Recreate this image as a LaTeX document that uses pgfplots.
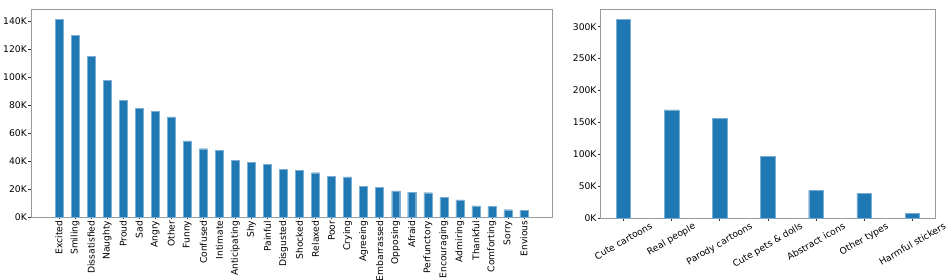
\documentclass[border=0pt]{standalone}
\usepackage{graphicx}
\usepackage{pgfplots}
\pgfplotsset{compat=1.18}
\usepackage{fontspec}
\setmainfont{DejaVu Sans}
\definecolor{mblue}{HTML}{1F77B4}
\definecolor{spine}{HTML}{9A9A9A}
\newcommand{\rl}[1]{\rotatebox{30}{#1}}
\begin{document}
\begin{tikzpicture}
\path[use as bounding box] (0pt,0pt) rectangle (951pt,280pt);
\pgfplotsset{
  every axis/.append style={
    scale only axis,
    font=\fontsize{9.2}{10.5}\selectfont,
    axis line style={spine, line width=0.7pt},
    tick style={black!80, line width=0.5pt},
    major tick length=2.5pt,
    tick align=outside,
    xtick pos=bottom, ytick pos=left,
    ymin=0,
    /pgf/number format/assume math mode=true,
    yticklabel={\pgfmathprintnumber[fixed,precision=0]{\tick}K},
    yticklabel style={inner sep=1.5pt},
    scaled y ticks=false,
    clip=false,
  },
}
% values in thousands
\begin{axis}[
  at={(31pt,63pt)}, anchor=south west,
  width=521pt, height=208pt,
  ybar, bar width=8pt,
  xmin=-1.75, xmax=30.75, ymax=149,
  ytick={0,20,40,60,80,100,120,140},
  xtick={0,...,29},
  xticklabels={Excited,Smiling,Dissatisfied,Naughty,Proud,Sad,Angry,Other,Funny,Confused,Intimate,Anticipating,Shy,Painful,Disgusted,Shocked,Relaxed,Poor,Crying,Agreeing,Embarrassed,Opposing,Afraid,Perfunctory,Encouraging,Admiring,Thankful,Comforting,Sorry,Envious},
  xticklabel style={rotate=90, anchor=east, inner sep=1pt},
]
\addplot[fill=mblue, draw=mblue!60!white, line width=0.4pt] coordinates {
(0,141.4) (1,130.0) (2,115.2) (3,98.0) (4,83.5) (5,77.7) (6,75.8) (7,71.8)
(8,54.6) (9,48.9) (10,47.9) (11,40.5) (12,38.9) (13,37.7) (14,34.1) (15,33.4)
(16,31.7) (17,29.3) (18,28.8) (19,22.2) (20,21.0) (21,18.8) (22,17.9) (23,17.4)
(24,14.3) (25,12.2) (26,7.9) (27,7.4) (28,5.2) (29,5.0)};
\end{axis}
\begin{axis}[
  at={(600.7pt,61.7pt)}, anchor=south west,
  width=334.3pt, height=209.3pt,
  ybar, bar width=14.6pt,
  xmin=-0.47, xmax=6.47, ymax=327.7,
  ytick={0,50,100,150,200,250,300},
  xtick={0,...,6},
  xticklabels={\rl{Cute cartoons},\rl{Real people},\rl{Parody cartoons},\rl{Cute pets \& dolls},\rl{Abstract icons},\rl{Other types},\rl{Harmful stickers}},
  xticklabel style={anchor=north, inner sep=1pt},
]
\addplot[fill=mblue, draw=mblue!60!white, line width=0.4pt] coordinates {
(0,311.0) (1,169.6) (2,156.5) (3,97.0) (4,43.8) (5,39.1) (6,7.8)};
\end{axis}
\end{tikzpicture}
\end{document}
